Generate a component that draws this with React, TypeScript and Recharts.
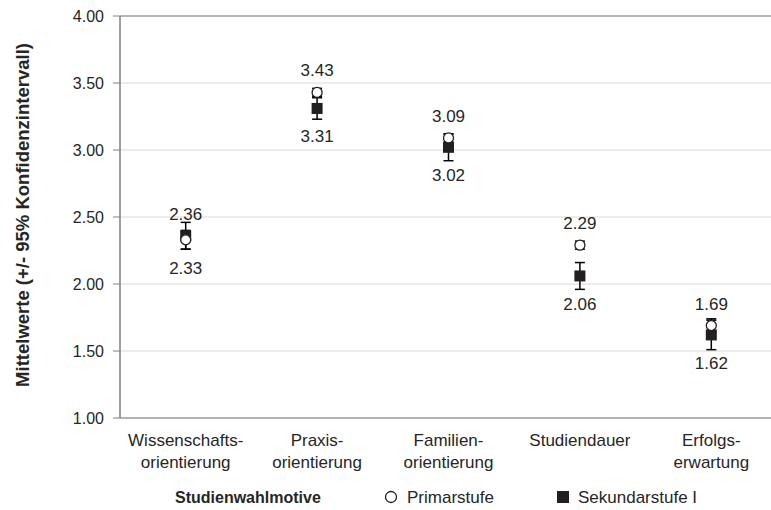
import React from 'react';
import {
  ComposedChart,
  Line,
  XAxis,
  YAxis,
  CartesianGrid,
  ErrorBar,
  LabelList,
  ReferenceLine,
} from 'recharts';

const categories = [
  'Wissenschafts-\norientierung',
  'Praxis-\norientierung',
  'Familien-\norientierung',
  'Studiendauer',
  'Erfolgs-\nerwartung',
];
const primarValues = [2.33, 3.43, 3.09, 2.29, 1.69];
const sekundarValues = [2.36, 3.31, 3.02, 2.06, 1.62];
const primarCI = [0.07, 0.03, 0.03, 0.03, 0.05];
const sekundarCI = [0.1, 0.08, 0.1, 0.1, 0.11];
const yTicks = [1, 1.5, 2, 2.5, 3, 3.5, 4];

const data = categories.map((name, i) => ({
  name,
  primar: primarValues[i],
  sekundar: sekundarValues[i],
  primarErr: primarCI[i],
  sekundarErr: sekundarCI[i],
}));

const FONT = "'Liberation Sans', Arial, Helvetica, sans-serif";
const TEXT = '#262626';
const DARK = '#231f20';

const XTick = (props: any) => {
  const { x, y, payload } = props;
  const lines = String(payload.value).split('\n');
  return (
    <g>
      {lines.map((l, i) => (
        <text
          key={i}
          x={x}
          y={y + 28 + i * 22}
          textAnchor="middle"
          fontSize={17}
          fontFamily={FONT}
          fill={TEXT}
        >
          {l}
        </text>
      ))}
    </g>
  );
};

const makeLabel = (own: number[], other: number[], strict: boolean) => (props: any) => {
  const { x, y, index, value } = props;
  const above = strict ? own[index] > other[index] : own[index] >= other[index];
  return (
    <text
      x={x}
      y={above ? y - 16 : y + 34}
      textAnchor="middle"
      fontSize={17}
      fontFamily={FONT}
      fill={TEXT}
    >
      {Number(value).toFixed(2)}
    </text>
  );
};

const SquareDot = (props: any) => {
  const { cx, cy, index } = props;
  if (cx == null || cy == null) return <g key={`s-${index}`} />;
  return <rect key={`s-${index}`} x={cx - 5.5} y={cy - 5.5} width={11} height={11} fill={DARK} />;
};

const CircleDot = (props: any) => {
  const { cx, cy, index } = props;
  if (cx == null || cy == null) return <g key={`c-${index}`} />;
  return <circle key={`c-${index}`} cx={cx} cy={cy} r={5} fill="#ffffff" stroke={DARK} strokeWidth={1.3} />;
};

const YLabel = (props: any) => {
  const vb = props.viewBox || { y: 8, height: 402 };
  const cy = vb.y + vb.height / 2 - 2;
  return (
    <text
      x={14}
      y={cy}
      transform={`rotate(-90, 14, ${cy})`}
      textAnchor="middle"
      dominantBaseline="central"
      fontSize={18.5}
      fontWeight="bold"
      fontFamily={FONT}
      fill={TEXT}
    >
      Mittelwerte (+/- 95% Konfidenzintervall)
    </text>
  );
};

export default function App() {
  return (
    <div
      style={{
        width: 763,
        height: 500,
        overflow: 'hidden',
        position: 'absolute',
        left: 8,
        top: 8,
        fontFamily: FONT,
      }}
    >
      <ComposedChart
        width={771}
        height={470}
        data={data}
        margin={{ top: 8, right: 2, bottom: 0, left: 0 }}
      >
        <CartesianGrid horizontal vertical={false} stroke="#d9d9d9" strokeWidth={1} />
        <ReferenceLine y={4} stroke="#a6a6a6" strokeWidth={1.5} />
        <XAxis
          dataKey="name"
          interval={0}
          tickLine={false}
          tickSize={0}
          tickMargin={0}
          padding={{ left: 65.7, right: 65.7 }}
          axisLine={{ stroke: '#a0a0a0', strokeWidth: 1.5 }}
          height={60}
          tick={<XTick />}
        />
        <YAxis
          type="number"
          domain={[1, 4]}
          ticks={yTicks}
          interval={0}
          tickFormatter={(v: number) => v.toFixed(2)}
          width={112}
          tickSize={7}
          tickMargin={9}
          axisLine={{ stroke: '#808080', strokeWidth: 1.5 }}
          tickLine={{ stroke: '#808080', strokeWidth: 1 }}
          tick={{ fontSize: 16, fill: TEXT, fontFamily: FONT }}
          label={<YLabel />}
        />
        <Line
          dataKey="sekundar"
          name="Sekundarstufe I"
          stroke="none"
          isAnimationActive={false}
          dot={<SquareDot />}
          activeDot={false}
        >
          <ErrorBar dataKey="sekundarErr" direction="y" width={5} stroke="#000000" strokeWidth={1.5} />
          <LabelList dataKey="sekundar" content={makeLabel(sekundarValues, primarValues, true)} />
        </Line>
        <Line
          dataKey="primar"
          name="Primarstufe"
          stroke="none"
          isAnimationActive={false}
          dot={<CircleDot />}
          activeDot={false}
        >
          <ErrorBar dataKey="primarErr" direction="y" width={5} stroke="#000000" strokeWidth={1.5} />
          <LabelList dataKey="primar" content={makeLabel(primarValues, sekundarValues, false)} />
        </Line>
      </ComposedChart>
      <svg width={763} height={30} style={{ position: 'absolute', left: 0, top: 470 }}>
        <text x={167} y={25} fontSize={16} fontWeight="bold" fontFamily={FONT} fill={TEXT}>
          Studienwahlmotive
        </text>
        <circle cx={383} cy={19} r={5.5} fill="#ffffff" stroke={DARK} strokeWidth={1.3} />
        <text x={399} y={25} fontSize={17} fontFamily={FONT} fill={TEXT}>
          Primarstufe
        </text>
        <rect x={549} y={13} width={12} height={12} fill={DARK} />
        <text x={570} y={25} fontSize={17} fontFamily={FONT} fill={TEXT}>
          Sekundarstufe I
        </text>
      </svg>
    </div>
  );
}
